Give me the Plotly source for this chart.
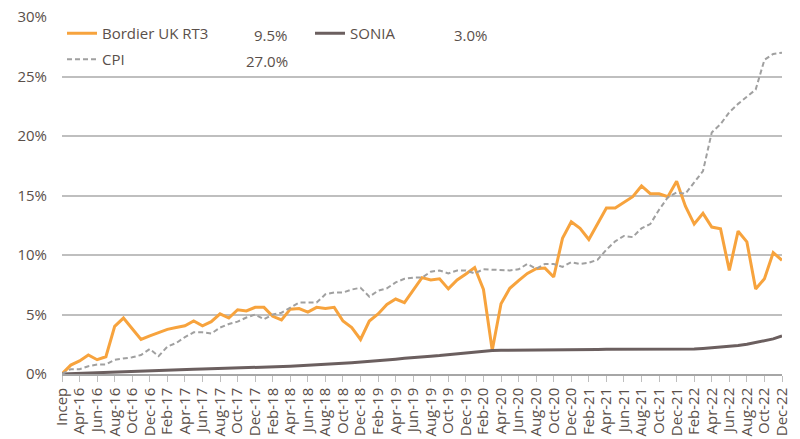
import plotly.graph_objects as go

months = ["Jan", "Feb", "Mar", "Apr", "May", "Jun", "Jul", "Aug", "Sep", "Oct", "Nov", "Dec"]
categories = ["Incep"] + [f"{m}-{y}" for y in range(16, 23) for m in months][2:]

bordier = [0.0, 0.75, 1.1, 1.6, 1.2, 1.45, 4.0, 4.7, 3.8, 2.9, 3.2, 3.5, 3.75, 3.9, 4.05, 4.45,
           4.05, 4.4, 5.05, 4.7, 5.4, 5.3, 5.6, 5.6, 4.85, 4.55, 5.45, 5.5, 5.2, 5.6, 5.5, 5.6,
           4.45, 3.9, 2.9, 4.45, 5.05, 5.85, 6.3, 6.0, 7.05, 8.1, 7.9, 8.0, 7.15, 7.9, 8.4, 8.95,
           7.1, 2.0, 5.9, 7.2, 7.85, 8.45, 8.85, 8.9, 8.15, 11.4, 12.8, 12.25, 11.3, 12.6, 13.95,
           13.95, 14.4, 14.9, 15.8, 15.15, 15.15, 14.9, 16.2, 14.1, 12.6, 13.5, 12.35, 12.2, 8.7,
           12.0, 11.1, 7.15, 8.0, 10.2, 9.55]

sonia = [0.0, 0.03, 0.06, 0.09, 0.12, 0.15, 0.18, 0.2, 0.22, 0.25, 0.3, 0.32, 0.34, 0.36, 0.38,
         0.4, 0.41, 0.43, 0.45, 0.47, 0.49, 0.51, 0.53, 0.55, 0.58, 0.62, 0.66, 0.7, 0.73, 0.76,
         0.8, 0.85, 0.9, 0.95, 1.0, 1.08, 1.15, 1.2, 1.25, 1.32, 1.4, 1.45, 1.5, 1.55, 1.62, 1.7,
         1.78, 1.85, 1.93, 1.97, 2.0, 2.0, 2.0, 2.0, 2.0, 2.0, 2.0, 2.0, 2.0, 2.0, 2.02, 2.05,
         2.07, 2.07, 2.07, 2.07, 2.07, 2.07, 2.07, 2.07, 2.07, 2.07, 2.1, 2.15, 2.2, 2.25, 2.3,
         2.4, 2.5, 2.65, 2.8, 2.95, 3.2]

cpi = [0.0, 0.4, 0.4, 0.65, 0.8, 0.8, 1.2, 1.3, 1.4, 1.6, 2.1, 1.5, 2.3, 2.6, 3.1, 3.5, 3.5,
       3.4, 3.9, 4.2, 4.4, 4.75, 5.0, 4.6, 5.0, 5.15, 5.6, 6.0, 6.0, 6.0, 6.7, 6.85, 6.85, 7.1,
       7.25, 6.5, 7.0, 7.2, 7.7, 8.0, 8.1, 8.1, 8.6, 8.7, 8.45, 8.7, 8.7, 8.45, 8.8, 8.75, 8.7,
       8.7, 8.8, 9.25, 8.85, 9.25, 9.25, 9.0, 9.4, 9.25, 9.35, 9.6, 10.45, 11.15, 11.6, 11.5,
       12.25, 12.6, 13.8, 14.85, 15.25, 15.15, 16.1, 17.05, 20.3, 21.0, 22.0, 22.7, 23.3, 23.9,
       26.4, 26.9, 27.0]

series_names = ["Bordier UK RT3", "SONIA", "CPI"]
legend_values = ["9.5%", "3.0%", "27.0%"]
tick_labels = categories[::2]
y_ticks = [0, 5, 10, 15, 20, 25, 30]
y_tick_labels = ["0%", "5%", "10%", "15%", "20%", "25%", "30%"]

TXT = "#5a4f4a"
FONT = "Open Sans"
FS = 15

fig = go.Figure()
fig.add_trace(go.Scatter(x=categories, y=bordier, name=series_names[0], mode="lines",
                         line=dict(color="#F7A33D", width=3), legend="legend"))
fig.add_trace(go.Scatter(x=categories, y=sonia, name=series_names[1], mode="lines",
                         line=dict(color="#6B5F5F", width=3), legend="legend"))
fig.add_trace(go.Scatter(x=categories, y=cpi, name=series_names[2], mode="lines",
                         line=dict(color="#A0A0A0", width=2, dash="5px,3px"), legend="legend2"))

# legend values
ann_pos = [(0.3167, 0.9496), (0.5944, 0.9496), (0.3167, 0.8768)]
for v, (ax, ay) in zip(legend_values, ann_pos):
    fig.add_annotation(x=ax, y=ay, xref="paper", yref="paper", text=v, showarrow=False,
                       xanchor="right", yanchor="middle", font=dict(family=FONT, size=FS, color=TXT))

legend_common = dict(orientation="h", xanchor="left", yanchor="top", bgcolor="rgba(0,0,0,0)",
                     font=dict(family=FONT, size=FS, color=TXT), itemwidth=30)

fig.update_layout(
    width=792, height=431,
    margin=dict(l=54, r=18, t=9, b=65, autoexpand=False),
    paper_bgcolor="white", plot_bgcolor="white",
    font=dict(family=FONT, size=FS, color=TXT),
    showlegend=True,
    legend=dict(x=0.0, y=1.0, entrywidth=203, **legend_common),
    legend2=dict(x=0.0, y=0.927, **legend_common),
)
fig.update_xaxes(type="category", range=[0, len(categories) - 1], tickmode="array",
                 tickvals=categories[::2], ticktext=tick_labels, tickangle=-90,
                 showgrid=False, showline=True, linecolor="#A6A6A6", linewidth=1.5,
                 ticks="outside", ticklen=6, tickcolor="#BFBFBF", tickwidth=1, automargin=False,
                 tickfont=dict(family=FONT, size=FS, color=TXT), zeroline=False)
fig.update_yaxes(range=[0, 30], tickmode="array", tickvals=y_ticks, ticktext=y_tick_labels,
                 showgrid=True, automargin=False, ticklabeloverflow="allow",
                 gridcolor="#BFBFBF", gridwidth=1.5, zeroline=False, showline=False,
                 ticklabelstandoff=14, tickfont=dict(family=FONT, size=FS, color=TXT))

fig.write_html("out.html")
